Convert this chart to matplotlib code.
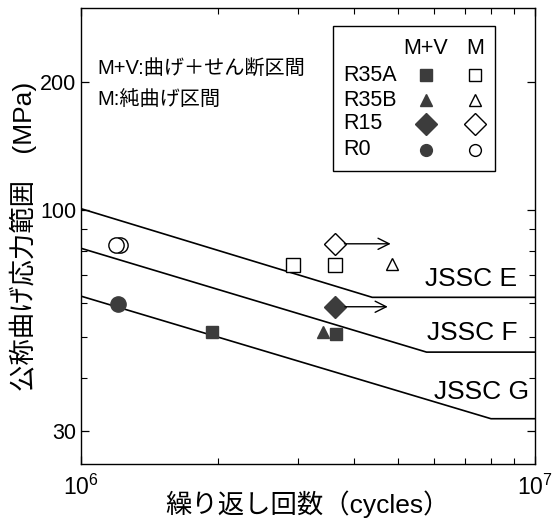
import matplotlib
matplotlib.use("Agg")
import matplotlib.pyplot as plt
from matplotlib.patches import Rectangle
from matplotlib.ticker import FixedLocator, NullFormatter, FixedFormatter

plt.rcParams['font.family'] = ['Liberation Sans', 'Noto Sans CJK JP', 'DejaVu Sans']

# ---- data ----
# JSSC design curves: (N, stress) break points
jssc_names = ["JSSC E", "JSSC F", "JSSC G"]
jssc_N = [[1e6, 4.38e6, 1e7], [1e6, 5.77e6, 1e7], [1e6, 8.0e6, 1e7]]
jssc_S = [[100.5, 62, 62], [81.0, 46, 46], [62.4, 32, 32]]
jssc_label_y = [68.5, 51, 37]
jssc_label_x = [9.15e6, 9.15e6, 9.7e6]

# test results (N, stress)
r35a_mv_N = [1.94e6, 3.65e6]; r35a_mv_S = [51.4, 50.8]
r35a_m_N = [2.93e6, 3.62e6];  r35a_m_S = [73.8, 73.8]
r35b_mv_N = [3.41e6];         r35b_mv_S = [51.2]
r35b_m_N = [4.83e6];          r35b_m_S = [74.5]
r15_mv_N = [3.63e6];          r15_mv_S = [58.9]
r15_m_N = [3.62e6];           r15_m_S = [83.0]
r0_mv_N = [1.205e6];          r0_mv_S = [59.7]
r0_m_N = [1.219e6, 1.193e6];  r0_m_S = [82.3, 82.3]
# run-out arrows (from N to N_end)
runout_N = [3.63e6, 3.62e6]; runout_S = [58.9, 83.0]; runout_end = [4.74e6, 4.81e6]

legend_rows = ["R35A", "R35B", "R15", "R0"]
legend_markers = ["s", "^", "D", "o"]
legend_ms = [8.5, 8, 11, 8.5]

ytick_major = [30, 100, 200]
ytick_minor = [40, 50, 60, 70, 80, 90]
xtick_minor = [2e6, 3e6, 4e6, 5e6, 6e6, 7e6, 8e6, 9e6]

fill_col = "#3c3c3c"

fig = plt.figure(figsize=(5.56, 5.18), dpi=100)
ax = fig.add_axes([0.1457, 0.1042, 0.8165, 0.8804])
ax.set_xscale('log'); ax.set_yscale('log')
ax.set_xlim(1e6, 1e7); ax.set_ylim(25, 300)

for N, S in zip(jssc_N, jssc_S):
    ax.plot(N, S, color='black', lw=1.2, zorder=2)
for name, x, y in zip(jssc_names, jssc_label_x, jssc_label_y):
    ax.text(x, y, name, ha='right', va='center', fontsize=19, zorder=1)

kw_f = dict(linestyle='none', color=fill_col, mec=fill_col, zorder=3)
kw_o = dict(linestyle='none', mfc='white', mec='black', mew=1.0, zorder=3)
ax.plot(r35a_mv_N, r35a_mv_S, marker='s', ms=9, **kw_f)
ax.plot(r35a_m_N, r35a_m_S, marker='s', ms=9.5, **kw_o)
ax.plot(r35b_mv_N, r35b_mv_S, marker='^', ms=9, **kw_f)
ax.plot(r35b_m_N, r35b_m_S, marker='^', ms=9, **kw_o)
ax.plot(r15_mv_N, r15_mv_S, marker='D', ms=11, **kw_f)
ax.plot(r15_m_N, r15_m_S, marker='D', ms=11, **kw_o)
ax.plot(r0_mv_N, r0_mv_S, marker='o', ms=11, **kw_f)
ax.plot(r0_m_N, r0_m_S, marker='o', ms=11, **kw_o)

for n0, s0, n1 in zip(runout_N, runout_S, runout_end):
    ax.annotate("", xy=(n1, s0), xytext=(n0, s0),
                arrowprops=dict(arrowstyle='->', color='black', lw=1.0,
                                shrinkA=7, shrinkB=0, mutation_scale=20))

# annotations
ax.text(0.035, 0.868, "M+V:曲げ＋せん断区間", transform=ax.transAxes, fontsize=14.5,
        va='center', ha='left')
ax.text(0.035, 0.80, "M:純曲げ区間", transform=ax.transAxes, fontsize=14.5,
        va='center', ha='left')

# custom legend box
ax.add_patch(Rectangle((0.555, 0.6425), 0.357, 0.318, transform=ax.transAxes,
                       fill=False, ec='black', lw=1.0, zorder=4))
ax.text(0.759, 0.912, "M+V", transform=ax.transAxes, ha='center', va='center', fontsize=15.5)
ax.text(0.868, 0.912, "M", transform=ax.transAxes, ha='center', va='center', fontsize=15.5)
row_y = [0.853, 0.798, 0.746, 0.689]
for lab, mk, ms, y in zip(legend_rows, legend_markers, legend_ms, row_y):
    ax.text(0.577, y, lab, transform=ax.transAxes, ha='left', va='center', fontsize=15.5)
    ax.plot([0.759], [y], marker=mk, ms=ms, transform=ax.transAxes, clip_on=False,
            **{k: v for k, v in kw_f.items() if k != 'zorder'})
    ax.plot([0.868], [y], marker=mk, ms=ms, transform=ax.transAxes, clip_on=False,
            **{k: v for k, v in kw_o.items() if k != 'zorder'})

# ticks
ax.yaxis.set_major_locator(FixedLocator(ytick_major))
ax.yaxis.set_major_formatter(FixedFormatter([str(v) for v in ytick_major]))
ax.yaxis.set_minor_locator(FixedLocator(ytick_minor))
ax.yaxis.set_minor_formatter(NullFormatter())
ax.xaxis.set_major_locator(FixedLocator([1e6, 1e7]))
ax.xaxis.set_major_formatter(FixedFormatter([r"$\mathregular{10^6}$", r"$\mathregular{10^7}$"]))
ax.xaxis.set_minor_locator(FixedLocator(xtick_minor))
ax.xaxis.set_minor_formatter(NullFormatter())
ax.tick_params(which='both', direction='in', top=True, right=True, labelsize=15.5)
ax.tick_params(axis='x', labelsize=16.5)
ax.tick_params(which='major', length=6, width=0.9)
ax.tick_params(which='minor', length=4, width=0.8)
ax.tick_params(axis='x', pad=8)
for sp in ax.spines.values():
    sp.set_linewidth(1.0)

ax.set_xlabel("繰り返し回数（cycles）", fontsize=19, labelpad=-7)
ax.set_ylabel("公称曲げ応力範囲　(MPa)", fontsize=19, labelpad=2)

fig.savefig("out.png", dpi=100)
